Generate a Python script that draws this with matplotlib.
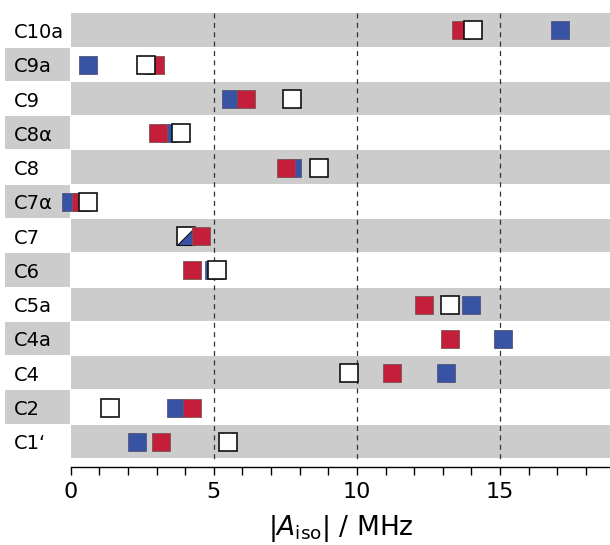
import numpy as np
import matplotlib
matplotlib.use("Agg")
import matplotlib.pyplot as plt
from matplotlib.patches import Rectangle
from matplotlib.path import Path
from matplotlib.ticker import MultipleLocator

# ---------------- data ----------------
atoms = ["C10a", "C9a", "C9", "C8α", "C8", "C7α", "C7", "C6",
         "C5a", "C4a", "C4", "C2", "C1‘"]
blue_vals = [17.11, 0.60, 5.60, 3.43, 7.73, 0.01, 4.03, 5.01,
             14.00, 15.10, 13.11, 3.68, 2.30]
red_vals = [13.64, 2.95, 6.14, 3.05, 7.54, 0.36, 4.54, 4.24,
            12.33, 13.24, 11.23, 4.24, 3.14]
white_vals = [14.04, 2.63, 7.73, 3.84, 8.69, 0.59, 4.03, 5.11,
              13.24, np.nan, 9.71, 1.37, 5.48]
xticks_major = [0, 5, 10, 15]
ref_lines = [5, 10, 15]
xlabel = r"$|A_{\mathrm{iso}}|$ / MHz"

# ---------------- style ----------------
plt.rcParams["font.family"] = ["DejaVu Sans"]
plt.rcParams["mathtext.fontset"] = "dejavusans"

BLUE = "#3953a4"
RED = "#c41e3a"
GRAY = "#cccccc"
PX = 28.62  # pixels per MHz in the target layout

fig = plt.figure(figsize=(6.10, 5.45), dpi=100)
x0_px = 70.7
ax = fig.add_axes([x0_px / 610, 1 - 467 / 545, 1 - x0_px / 610, (467 - 13.3) / 545])

n = len(atoms)
y = np.arange(n)
ax.set_xlim(0, (610 - x0_px) / PX)
ax.set_ylim(n - 0.265, -0.5)

gap = 0.03
lab_x0 = (5 - x0_px) / PX
lab_x1 = (70.3 - x0_px) / PX
for i in range(n):
    if i % 2 == 0:
        ax.axhspan(i - 0.5, i + 0.5 - gap, color=GRAY, lw=0, zorder=0)
    else:
        ax.add_patch(Rectangle((lab_x0, i - 0.5), lab_x1 - lab_x0, 1 - gap,
                               facecolor=GRAY, lw=0, clip_on=False, zorder=0))

ax.vlines(ref_lines, -0.5, n - 0.5, colors="#333333", lw=0.9,
          linestyles=(0, (4, 3.5)), zorder=1)

blue = np.array(blue_vals)
red = np.array(red_vals)
white = np.array(white_vals)
same = np.isclose(white, blue)

ms = 12.8
ax.plot(blue, y, ls="none", marker="s", ms=ms, mfc=BLUE, mec="#555577",
        mew=0.6, clip_on=False, zorder=3)
# coinciding white/blue entries: half white, half blue
tri = Path([(-0.5, -0.5), (0.5, -0.5), (0.5, 0.5), (-0.5, -0.5)],
           [Path.MOVETO, Path.LINETO, Path.LINETO, Path.CLOSEPOLY])
ax.plot(white[same], y[same], ls="none", marker="s", ms=ms, mfc="white",
        mec="#111111", mew=1.2, clip_on=False, zorder=3.4)
ax.plot(white[same], y[same], ls="none", marker=tri, ms=ms, mfc=BLUE,
        mec="#111111", mew=0.8, clip_on=False, zorder=3.5)
ax.plot(red, y, ls="none", marker="s", ms=ms, mfc=RED, mec="#775555",
        mew=0.6, clip_on=False, zorder=4)
ax.plot(white[~same], y[~same], ls="none", marker="s", ms=ms, mfc="white",
        mec="#111111", mew=1.2, clip_on=False, zorder=5)

# axes decoration
for s in ["top", "right", "left"]:
    ax.spines[s].set_visible(False)
ax.spines["bottom"].set_linewidth(1.0)
ax.set_xticks(xticks_major)
ax.xaxis.set_minor_locator(MultipleLocator(1))
ax.tick_params(axis="x", which="both", direction="out", length=5.5, width=1.0,
               labelsize=16, pad=5)
ax.set_yticks(y)
ax.set_yticklabels(atoms, fontsize=14)
ax.tick_params(axis="y", length=0, pad=(x0_px - 14) * 0.72)
for lab in ax.get_yticklabels():
    lab.set_ha("left")
ax.set_xlabel(xlabel, fontsize=19, labelpad=8)

fig.savefig("out.png", dpi=100)
